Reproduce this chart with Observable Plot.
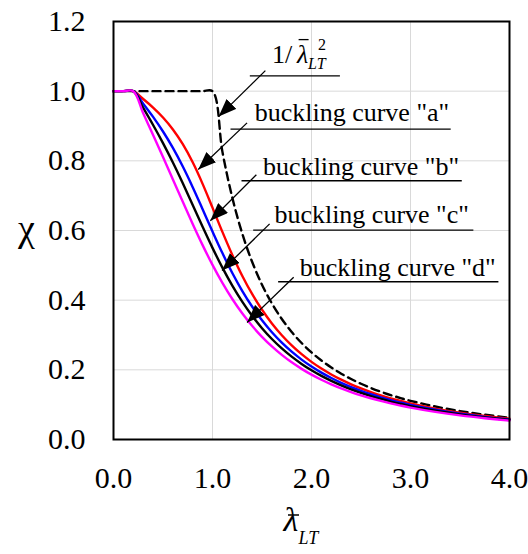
<!DOCTYPE html>
<html>
<head>
<meta charset="utf-8">
<script src="https://cdn.jsdelivr.net/npm/d3@7"></script>
<script src="https://cdn.jsdelivr.net/npm/@observablehq/plot@0.6"></script>
<style>
  html, body { margin: 0; padding: 0; background: #fff; }
  #chart { width: 528px; height: 554px; }
  #chart svg text { font-family: "Liberation Serif", "Times New Roman", serif; }
</style>
</head>
<body>
<div id="chart"></div>
<script>
// ---- data ----
const lambdaLT = [0, 0.1, 0.2, 0.3, 0.4, 0.5, 0.6, 0.7, 0.8, 0.9, 1.0, 1.1, 1.2, 1.3, 1.4, 1.5, 1.6, 1.7, 1.8, 1.9, 2.0, 2.1, 2.2, 2.3, 2.4, 2.5, 2.6, 2.7, 2.8, 2.9, 3.0, 3.25, 3.5, 3.75, 4.0];
const chiA = [1, 1, 1, 0.9775, 0.9528, 0.9243, 0.8900, 0.8477, 0.7957, 0.7339, 0.6656, 0.5960, 0.5300, 0.4703, 0.4179, 0.3724, 0.3332, 0.2994, 0.2702, 0.2449, 0.2229, 0.2036, 0.1867, 0.1717, 0.1585, 0.1467, 0.1362, 0.1267, 0.1182, 0.1105, 0.1036, 0.0888, 0.0769, 0.0673, 0.0594];
const chiB = [1, 1, 1, 0.9641, 0.9261, 0.8842, 0.8371, 0.7837, 0.7245, 0.6612, 0.5970, 0.5352, 0.4781, 0.4269, 0.3817, 0.3422, 0.3079, 0.2781, 0.2521, 0.2294, 0.2095, 0.1920, 0.1765, 0.1628, 0.1506, 0.1397, 0.1299, 0.1211, 0.1132, 0.1060, 0.0994, 0.0855, 0.0743, 0.0651, 0.0576];
const chiC = [1, 1, 1, 0.9521, 0.9029, 0.8509, 0.7951, 0.7355, 0.6734, 0.6108, 0.5501, 0.4933, 0.4417, 0.3957, 0.3551, 0.3196, 0.2886, 0.2615, 0.2378, 0.2170, 0.1987, 0.1825, 0.1682, 0.1554, 0.1440, 0.1338, 0.1247, 0.1164, 0.1089, 0.1021, 0.0959, 0.0827, 0.0720, 0.0633, 0.0560];
const chiD = [1, 1, 1, 0.9366, 0.8740, 0.8108, 0.7467, 0.6823, 0.6188, 0.5580, 0.5013, 0.4497, 0.4034, 0.3624, 0.3263, 0.2947, 0.2671, 0.2428, 0.2215, 0.2028, 0.1862, 0.1715, 0.1584, 0.1467, 0.1363, 0.1269, 0.1184, 0.1107, 0.1037, 0.0974, 0.0916, 0.0793, 0.0692, 0.0610, 0.0541];
const chiEuler = [1, 1, 1, 1, 1, 1, 1, 1, 1, 1, 1, 0.8264, 0.6944, 0.5917, 0.5102, 0.4444, 0.3906, 0.3460, 0.3086, 0.2770, 0.2500, 0.2268, 0.2066, 0.1890, 0.1736, 0.1600, 0.1479, 0.1372, 0.1276, 0.1189, 0.1111, 0.0947, 0.0816, 0.0711, 0.0625];

const xTicks = [0, 1, 2, 3, 4];
const yTicks = [0, 0.2, 0.4, 0.6, 0.8, 1.0, 1.2];

// callout annotations (data coordinates)
const calloutText  = ['buckling curve "a"', 'buckling curve "b"', 'buckling curve "c"', 'buckling curve "d"'];
const calloutTextX = [1.426, 1.511, 1.625, 1.881];
const calloutTextY = [0.915, 0.760, 0.623, 0.470];
const underlineX1  = [1.382, 1.187, 1.298, 1.416, 1.668];
const underlineX2  = [2.292, 3.411, 3.523, 3.640, 3.893];
const underlineY   = [1.044, 0.891, 0.743, 0.601, 0.453];
const arrowFromX   = [1.534, 1.349, 1.443, 1.577, 1.820];
const arrowFromY   = [1.059, 0.909, 0.760, 0.619, 0.466];
const arrowToX     = [1.062, 0.856, 0.978, 1.096, 1.349];
const arrowToY     = [0.927, 0.775, 0.628, 0.485, 0.336];
const eulerLabelX = 1.602, eulerLabelY = 1.082;

// ---- build tables ----
const series = [
  {name: "euler", values: chiEuler, color: "black", dash: "8,5"},
  {name: "a", values: chiA, color: "#ff0000", dash: null},
  {name: "b", values: chiB, color: "#0000ff", dash: null},
  {name: "c", values: chiC, color: "#000000", dash: null},
  {name: "d", values: chiD, color: "#ff00ff", dash: null}
];
const tables = series.map(s => lambdaLT.map((l, i) => ({lam: l, chi: s.values[i]})));
const idx5 = d3.range(5);
const idx4 = d3.range(4);

const W = 528, H = 554, ML = 113, MR = 19, MT = 21, MB = 115;
const serif = '"Liberation Serif", "Times New Roman", serif';
const T = {fontFamily: serif, fill: "black"};

const lineMarks = series.map((s, k) => Plot.line(tables[k], {
  x: "lam", y: "chi", stroke: s.color, strokeWidth: 2.4,
  strokeDasharray: s.dash || undefined, curve: "catmull-rom"
}));

const plot = Plot.plot({
  width: W, height: H,
  marginLeft: ML, marginRight: MR, marginTop: MT, marginBottom: MB,
  style: {fontFamily: serif, background: "white", color: "black"},
  x: {domain: [0, 4]},
  y: {domain: [0, 1.2]},
  marks: [
    Plot.gridX({ticks: [1, 2, 3], stroke: "#d9d9d9", strokeOpacity: 1, strokeWidth: 1}),
    Plot.gridY({ticks: [0.2, 0.4, 0.6, 0.8, 1.0], stroke: "#d9d9d9", strokeOpacity: 1, strokeWidth: 1}),
    ...lineMarks,
    Plot.frame({stroke: "black", strokeWidth: 2}),
    Plot.axisX({...T, ticks: xTicks, tickSize: 0, tickPadding: 27, fontSize: 30, label: null, tickFormat: d => d.toFixed(1)}),
    Plot.axisY({...T, ticks: yTicks, tickSize: 0, tickPadding: 28, fontSize: 30, label: null, tickFormat: d => d.toFixed(1)}),
    // underlines
    Plot.ruleY(idx5, {y: i => underlineY[i], x1: i => underlineX1[i], x2: i => underlineX2[i], stroke: "black", strokeWidth: 1.4}),
    // arrows
    Plot.link(idx5, {x1: i => arrowFromX[i], y1: i => arrowFromY[i], x2: i => arrowToX[i], y2: i => arrowToY[i], stroke: "black", strokeWidth: 1.3}),
    // callout texts (baseline on anchor)
    Plot.text(idx4, {...T, x: i => calloutTextX[i], y: i => calloutTextY[i], text: i => calloutText[i], textAnchor: "start", fontSize: 26, dy: -8.3}),
    // 1/ lambda^2_LT label
    Plot.text(["1/"], {...T, x: () => eulerLabelX, y: () => eulerLabelY, textAnchor: "start", fontSize: 26, dy: -8.3}),
    Plot.text(["λ"], {...T, x: () => eulerLabelX, y: () => eulerLabelY, textAnchor: "start", fontSize: 26, fontStyle: "italic", dx: 25, dy: -8.3}),
    Plot.text(["2"], {...T, x: () => eulerLabelX, y: () => eulerLabelY, textAnchor: "start", fontSize: 16, dx: 46, dy: -17.5}),
    Plot.text(["LT"], {...T, x: () => eulerLabelX, y: () => eulerLabelY, textAnchor: "start", fontSize: 16, fontStyle: "italic", dx: 36, dy: 1.5}),
    // y axis label
    Plot.text(["χ"], {...T, frameAnchor: "left", textAnchor: "middle", fontSize: 38, dx: -87, dy: -1.8}),
    // x axis label
    Plot.text(["λ"], {...T, frameAnchor: "bottom", textAnchor: "start", fontSize: 34, fontStyle: "italic", dx: -28, dy: 91}),
    Plot.text(["LT"], {...T, frameAnchor: "bottom", textAnchor: "start", fontSize: 18, fontStyle: "italic", dx: -13, dy: 104})
  ]
});

// arrowheads (filled triangles) and overbars
const svg = d3.select(plot);
const defs = svg.append("defs");
defs.append("marker")
  .attr("id", "ahead").attr("viewBox", "0 0 18 14")
  .attr("refX", 18).attr("refY", 7)
  .attr("markerWidth", 18).attr("markerHeight", 14)
  .attr("markerUnits", "userSpaceOnUse").attr("orient", "auto")
  .append("path").attr("d", "M0,0L18,7L0,14Z").attr("fill", "black");
svg.selectAll('g[aria-label="link"] path').attr("marker-end", "url(#ahead)");

const sx = plot.scale("x"), sy = plot.scale("y");
const ex = sx.apply(eulerLabelX), ey = sy.apply(eulerLabelY);
svg.append("line").attr("x1", ex + 27).attr("x2", ex + 37).attr("y1", ey - 22.5).attr("y2", ey - 22.5)
  .attr("stroke", "black").attr("stroke-width", 1.3);
const cx = ML + (W - ML - MR) / 2, by = H - MB;
svg.append("line").attr("x1", cx - 23).attr("x2", cx - 12).attr("y1", by + 76).attr("y2", by + 76)
  .attr("stroke", "black").attr("stroke-width", 1.5);

document.getElementById("chart").appendChild(plot);
</script>
</body>
</html>
